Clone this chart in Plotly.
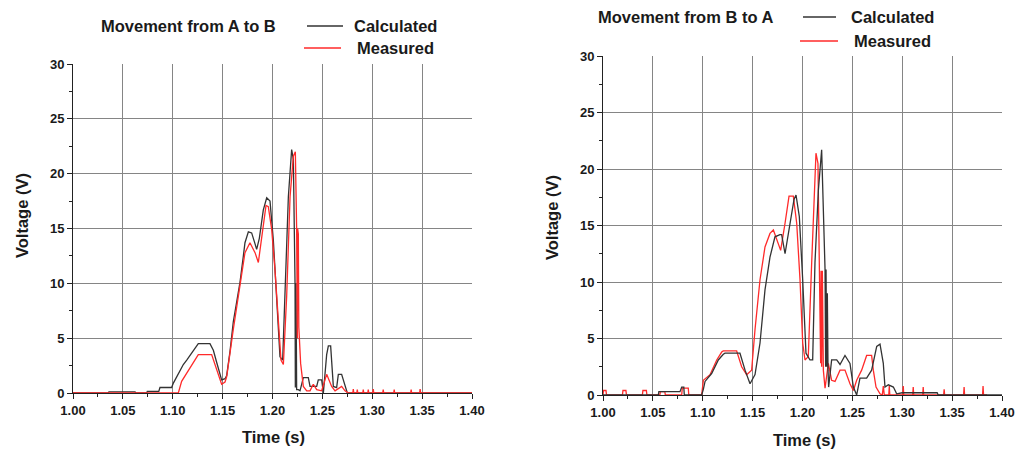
import plotly.graph_objects as go

# ---------------- data: Movement from A to B ----------------
ab_calc_t = [1.0000, 1.0354, 1.0360, 1.0622, 1.0630, 1.0739, 1.0745, 1.0860, 1.0872, 1.0989,
             1.1006, 1.1039, 1.1073, 1.1106, 1.1140, 1.1173, 1.1206, 1.1240, 1.1256, 1.1373,
             1.1407, 1.1440, 1.1474, 1.1490, 1.1524, 1.1541, 1.1574, 1.1607, 1.1641, 1.1674,
             1.1708, 1.1724, 1.1758, 1.1791, 1.1825, 1.1841, 1.1868, 1.1891, 1.1908, 1.1942,
             1.1975, 1.2008, 1.2042, 1.2075, 1.2102, 1.2125, 1.2159, 1.2192, 1.2209, 1.2220,
             1.2226, 1.2229, 1.2236, 1.2242, 1.2259, 1.2276, 1.2309, 1.2359, 1.2376, 1.2443,
             1.2459, 1.2493, 1.2510, 1.2543, 1.2560, 1.2583, 1.2610, 1.2643, 1.2660, 1.2693,
             1.2727, 1.2750, 1.4000]
ab_calc_v = [0, 0, 0.1, 0.1, 0, 0, 0.15, 0.15, 0.5, 0.5,
             0.9, 1.5, 2.0, 2.6, 3.0, 3.4, 3.9, 4.2, 4.5, 4.5,
             3.9, 2.8, 1.8, 1.2, 1.3, 1.6, 3.8, 6.5, 8.3, 10.1,
             12.5, 13.7, 14.7, 14.6, 13.6, 13.1, 14.1, 15.5, 16.7, 17.8,
             17.5, 14.0, 8.8, 3.3, 3.0, 8.8, 17.9, 22.2, 21.3, 14.0,
             10.0, 0.5, 10.0, 0.3, 0.3, 0.2, 1.4, 1.4, 0.6, 0.6,
             1.2, 1.2, 0, 3.5, 4.3, 4.3, 0.6, 0.5, 1.7, 1.7,
             0.7, 0, 0]

ab_meas_t = [1.0000, 1.1056, 1.1089, 1.1140, 1.1206, 1.1256, 1.1390, 1.1424, 1.1457, 1.1490,
             1.1524, 1.1541, 1.1607, 1.1674, 1.1724, 1.1774, 1.1825, 1.1858, 1.1891, 1.1935,
             1.1958, 1.1992, 1.2025, 1.2058, 1.2085, 1.2109, 1.2142, 1.2176, 1.2209, 1.2229,
             1.2242, 1.2249, 1.2252, 1.2256, 1.2259, 1.2264, 1.2270, 1.2282, 1.2309, 1.2343,
             1.2376, 1.2409, 1.2443, 1.2493, 1.2543, 1.2576, 1.2593, 1.2627, 1.2693, 1.2727,
             1.2760,
             1.2805, 1.2810, 1.2815, 1.2845, 1.2850, 1.2855, 1.2905, 1.2910, 1.2915,
             1.2955, 1.2960, 1.2965, 1.3005, 1.3010, 1.3015, 1.3105, 1.3110, 1.3115,
             1.3215, 1.3220, 1.3225, 1.3385, 1.3390, 1.3395, 1.3475, 1.3480, 1.3485,
             1.4000]
ab_meas_v = [0, 0, 1.06, 1.8, 2.7, 3.5, 3.5, 2.6, 1.7, 0.8,
             1.0, 1.5, 5.8, 9.7, 12.8, 13.7, 12.8, 11.9, 14.3, 17.1,
             17.0, 14.9, 11.2, 7.0, 3.0, 2.6, 8.8, 17.9, 21.6, 22.0,
             15.0, 5.0, 15.0, 5.5, 14.5, 6.0, 5.0, 2.7, 0.6, 0.2,
             0.2, 0.8, 0.3, 0.2, 1.7, 1.0, 0.6, 0.2, 0.6, 0.2,
             0,
             0, 0.35, 0, 0, 0.3, 0, 0, 0.3, 0,
             0, 0.3, 0, 0, 0.35, 0, 0, 0.3, 0,
             0, 0.3, 0, 0, 0.3, 0, 0, 0.35, 0,
             0]

# ---------------- data: Movement from B to A ----------------
ba_calc_t = [1.0000, 1.0555, 1.0560, 1.0772, 1.0789, 1.0810, 1.0815, 1.0989, 1.1006, 1.1023,
             1.1089, 1.1156, 1.1206, 1.1223, 1.1373, 1.1424, 1.1474, 1.1524, 1.1574, 1.1624,
             1.1674, 1.1724, 1.1774, 1.1791, 1.1825, 1.1875, 1.1915, 1.1935, 1.1968, 1.2002,
             1.2035, 1.2075, 1.2102, 1.2125, 1.2159, 1.2192, 1.2209, 1.2226, 1.2232, 1.2236,
             1.2242, 1.2249, 1.2256, 1.2262, 1.2292, 1.2343, 1.2376, 1.2426, 1.2476, 1.2510,
             1.2543, 1.2576, 1.2643, 1.2693, 1.2744, 1.2777, 1.2810, 1.2827, 1.2861, 1.2911,
             1.2944, 1.3000, 1.3350, 1.3360, 1.4000]
ba_calc_v = [0, 0, 0.3, 0.3, 0.7, 0.7, 0, 0, 0.5, 1.2,
             1.9, 3.1, 3.6, 3.7, 3.7, 2.2, 1.0, 1.8, 4.6, 9.3,
             12.2, 14.0, 14.2, 14.2, 12.5, 15.2, 17.3, 17.7, 15.8, 10.2,
             3.7, 3.1, 3.1, 11.7, 18.1, 21.7, 15.9, 11.1, 2.5, 11.1,
             2.5, 9.0, 2.2, 0.7, 3.1, 3.1, 2.7, 3.5, 2.8, 0.7,
             0, 1.5, 1.5, 2.2, 4.3, 4.5, 2.8, 0.7, 0.9, 0.7,
             0.1, 0.2, 0.2, 0, 0]

ba_meas_t = [1.0000, 1.0005, 1.0030, 1.0035, 1.0195, 1.0200, 1.0230, 1.0235, 1.0395, 1.0400,
             1.0435, 1.0440, 1.0570, 1.0575, 1.0620, 1.0625, 1.0789, 1.0795, 1.0855, 1.0860,
             1.0989, 1.1006, 1.1073, 1.1140, 1.1190, 1.1206, 1.1340, 1.1390, 1.1440, 1.1490,
             1.1524, 1.1574, 1.1624, 1.1674, 1.1708, 1.1758, 1.1781, 1.1825, 1.1865, 1.1908,
             1.1942, 1.1975, 1.2002, 1.2025, 1.2058, 1.2092, 1.2115, 1.2135, 1.2155, 1.2169,
             1.2182, 1.2186, 1.2192, 1.2199, 1.2209, 1.2226, 1.2259, 1.2292, 1.2326, 1.2376,
             1.2426, 1.2476, 1.2510, 1.2543, 1.2593, 1.2643, 1.2693, 1.2710, 1.2737, 1.2777,
             1.2800, 1.2810, 1.2820, 1.2865, 1.2870, 1.2875, 1.3005, 1.3010, 1.3015,
             1.3105, 1.3110, 1.3115, 1.3205, 1.3210, 1.3215, 1.3415, 1.3420, 1.3425,
             1.3615, 1.3620, 1.3625, 1.3805, 1.3810, 1.3815, 1.3850]
ba_meas_v = [0, 0.4, 0.4, 0, 0, 0.4, 0.4, 0, 0, 0.4,
             0.4, 0, 0, 0.3, 0.3, 0, 0, 0.6, 0.6, 0,
             0, 1.3, 1.8, 3.1, 3.8, 3.9, 3.9, 2.5, 1.8, 2.2,
             5.8, 10.2, 13.1, 14.3, 14.6, 13.4, 12.8, 15.2, 17.6, 17.6,
             15.2, 10.2, 4.6, 3.1, 3.4, 11.7, 17.6, 21.4, 20.5, 11.7,
             2.8, 11.0, 2.5, 11.0, 2.2, 0.6, 2.8, 1.3, 1.2, 2.2,
             2.2, 1.0, 0.4, 1.3, 2.2, 3.5, 3.5, 2.2, 0.7, 0.1,
             0, 0.8, 0, 0, 0.8, 0, 0, 0.8, 0,
             0, 0.7, 0, 0, 0.7, 0, 0, 0.5, 0,
             0, 0.7, 0, 0, 0.8, 0, 0]

x_range = [1.00, 1.40]
y_range = [0, 30]
x_ticks = [1.00, 1.05, 1.10, 1.15, 1.20, 1.25, 1.30, 1.35, 1.40]
x_tick_text = ["1.00", "1.05", "1.10", "1.15", "1.20", "1.25", "1.30", "1.35", "1.40"]
y_ticks = [0, 5, 10, 15, 20, 25, 30]

titles = ["Movement from A to B", "Movement from B to A"]
series_names = ["Calculated", "Measured"]

BLACK = "#333333"
RED = "#ff2a2a"
GRID = "#858585"
FONT = "Liberation Sans"
TXT = "#1a1a1a"

W, H = 1027, 450
def px(x):
    return x / W
def py(y):
    return 1 - y / H

fig = go.Figure()

# left: calculated then measured (red on top); right: measured then calculated
fig.add_trace(go.Scatter(x=ab_calc_t, y=ab_calc_v, mode="lines", name=series_names[0],
                         line=dict(color=BLACK, width=1.3), xaxis="x", yaxis="y", showlegend=False))
fig.add_trace(go.Scatter(x=ab_meas_t, y=ab_meas_v, mode="lines", name=series_names[1],
                         line=dict(color=RED, width=1.3), xaxis="x", yaxis="y", showlegend=False))
fig.add_trace(go.Scatter(x=ba_meas_t, y=ba_meas_v, mode="lines", name=series_names[1],
                         line=dict(color=RED, width=1.3), xaxis="x2", yaxis="y2", showlegend=False))
fig.add_trace(go.Scatter(x=ba_calc_t, y=ba_calc_v, mode="lines", name=series_names[0],
                         line=dict(color=BLACK, width=1.3), xaxis="x2", yaxis="y2", showlegend=False))

tickfont = dict(family=FONT, size=13, color=TXT, weight="bold")

def xaxis_main(domain, anchor):
    return dict(domain=domain, anchor=anchor, range=x_range, tickvals=x_ticks, ticktext=x_tick_text,
                ticks="outside", ticklen=5, tickwidth=1, tickcolor="#222",
                showline=True, linecolor="#222", linewidth=1,
                showgrid=True, gridcolor=GRID, gridwidth=1.2, zeroline=False,
                minor=dict(dtick=0.025, ticks="outside", ticklen=3, tickcolor="#222", showgrid=False),
                tickfont=tickfont, layer="below traces", fixedrange=True, automargin=False)

def yaxis_main(domain, anchor):
    return dict(domain=domain, anchor=anchor, range=y_range, tickvals=y_ticks,
                ticks="outside", ticklen=5, tickwidth=1, tickcolor="#222",
                showline=True, linecolor="#222", linewidth=1,
                showgrid=True, gridcolor=GRID, gridwidth=1.2, zeroline=False,
                minor=dict(dtick=2.5, ticks="outside", ticklen=3, tickcolor="#222", showgrid=False),
                tickfont=tickfont, layer="below traces", fixedrange=True, automargin=False)

def xaxis_top(over, anchor):
    return dict(overlaying=over, anchor=anchor, side="top", range=x_range, tickvals=x_ticks,
                ticks="inside", ticklen=5, tickcolor="#222", showticklabels=False,
                showline=True, linecolor="#222", linewidth=1, showgrid=False, zeroline=False,
                minor=dict(dtick=0.025, ticks="inside", ticklen=3, tickcolor="#222"),
                fixedrange=True, automargin=False)

def yaxis_right(over, anchor):
    return dict(overlaying=over, anchor=anchor, side="right", range=y_range, tickvals=y_ticks,
                ticks="inside", ticklen=5, tickcolor="#222", showticklabels=False,
                showline=True, linecolor="#222", linewidth=1, showgrid=False, zeroline=False,
                minor=dict(dtick=2.5, ticks="inside", ticklen=3, tickcolor="#222"),
                fixedrange=True, automargin=False)

left_xd = [px(73), px(472)]
left_yd = [py(393), py(64)]
right_xd = [px(603), px(1002)]
right_yd = [py(395), py(56)]

fig.update_layout(
    width=W, height=H,
    margin=dict(l=0, r=0, t=0, b=0, autoexpand=False),
    paper_bgcolor="white", plot_bgcolor="white",
    xaxis=xaxis_main(left_xd, "y"),
    yaxis=yaxis_main(left_yd, "x"),
    xaxis2=xaxis_main(right_xd, "y2"),
    yaxis2=yaxis_main(right_yd, "x2"),
    xaxis3=xaxis_top("x", "y"),
    yaxis3=yaxis_right("y", "x"),
    xaxis4=xaxis_top("x2", "y2"),
    yaxis4=yaxis_right("y2", "x2"),
    showlegend=False,
)

lblfont = dict(family=FONT, size=16.5, color=TXT, weight="bold")
ann = []
# panel titles
ann.append(dict(x=px(99), y=py(26), text=titles[0], xanchor="left", yanchor="middle"))
ann.append(dict(x=px(596), y=py(17), text=titles[1], xanchor="left", yanchor="middle"))
# legend texts
ann.append(dict(x=px(352), y=py(26), text=series_names[0], xanchor="left", yanchor="middle"))
ann.append(dict(x=px(355), y=py(48), text=series_names[1], xanchor="left", yanchor="middle"))
ann.append(dict(x=px(849), y=py(17), text=series_names[0], xanchor="left", yanchor="middle"))
ann.append(dict(x=px(852), y=py(41), text=series_names[1], xanchor="left", yanchor="middle"))
# axis titles
ann.append(dict(x=px(273), y=py(437), text="Time (s)", xanchor="center", yanchor="middle"))
ann.append(dict(x=px(804), y=py(440), text="Time (s)", xanchor="center", yanchor="middle"))
ann.append(dict(x=px(22), y=py(216), text="Voltage (V)", xanchor="center", yanchor="middle", textangle=-90))
ann.append(dict(x=px(552), y=py(218), text="Voltage (V)", xanchor="center", yanchor="middle", textangle=-90))
for a in ann:
    a.update(xref="paper", yref="paper", showarrow=False, font=lblfont)
fig.update_layout(annotations=ann)

shapes = [
    dict(x0=px(307), x1=px(343), y0=py(26), y1=py(26), color=BLACK),
    dict(x0=px(304), x1=px(341), y0=py(48), y1=py(48), color=RED),
    dict(x0=px(803), x1=px(836), y0=py(17), y1=py(17), color=BLACK),
    dict(x0=px(800), x1=px(838), y0=py(41), y1=py(41), color=RED),
]
fig.update_layout(shapes=[dict(type="line", xref="paper", yref="paper",
                               x0=s["x0"], x1=s["x1"], y0=s["y0"], y1=s["y1"],
                               line=dict(color=s["color"], width=1.3)) for s in shapes])

fig.write_html("out.html")
